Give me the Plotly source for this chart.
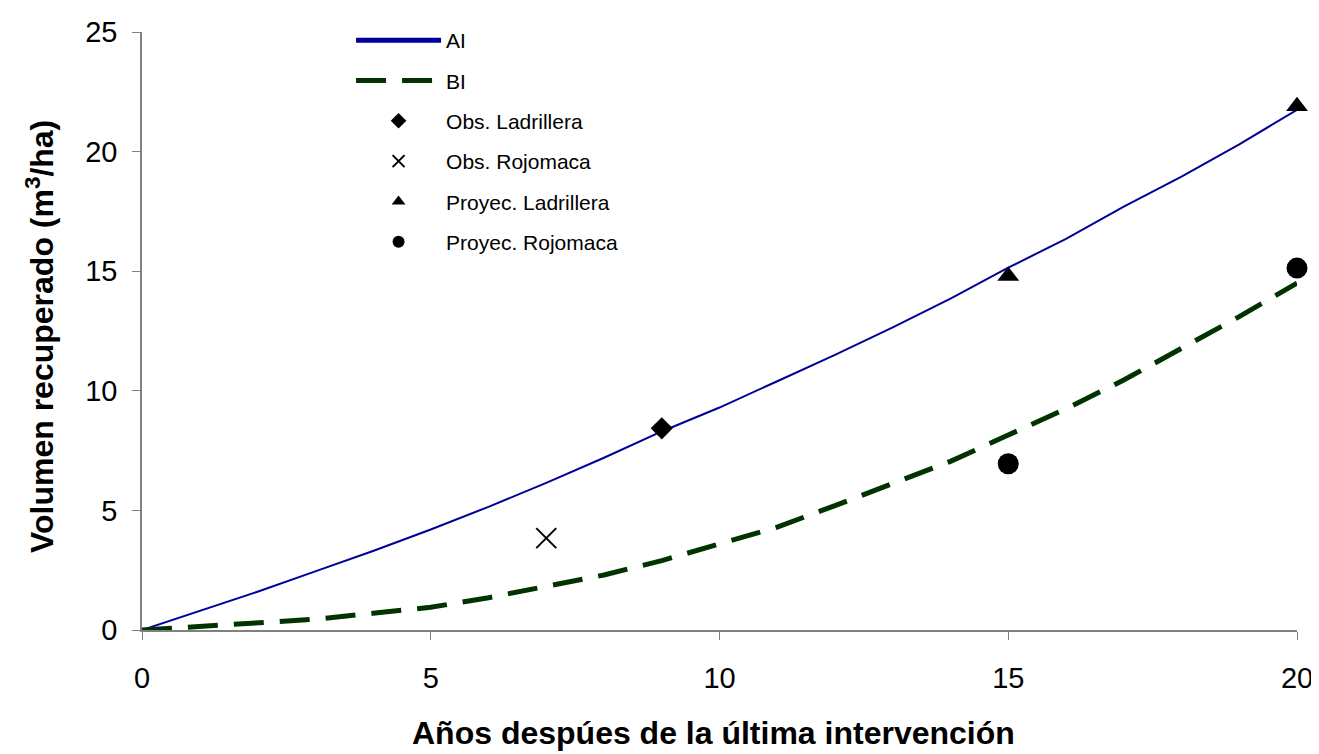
import plotly.graph_objects as go

years = list(range(21))
ai = [0, 0.8, 1.6, 2.45, 3.3, 4.2, 5.15, 6.15, 7.2, 8.3, 9.3, 10.4, 11.5, 12.65, 13.85, 15.15, 16.35, 17.7, 18.95, 20.3, 21.75]
bi = [0, 0.15, 0.3, 0.45, 0.7, 0.95, 1.35, 1.8, 2.3, 2.9, 3.6, 4.3, 5.2, 6.1, 7.05, 8.15, 9.25, 10.45, 11.75, 13.1, 14.5]

obs_lad_x = [9]
obs_lad_y = [8.43]
obs_roj_x = [7]
obs_roj_y = [3.84]
proy_lad_x = [15, 20]
proy_lad_y = [14.8, 21.9]
proy_roj_x = [15, 20]
proy_roj_y = [6.95, 15.13]

xticks = [0, 5, 10, 15, 20]
yticks = [0, 5, 10, 15, 20, 25]

FONT = "Liberation Sans, Arial, sans-serif"

fig = go.Figure()
fig.add_trace(go.Scatter(x=years, y=ai, mode="lines", name="AI", legendgroup="a",
                         line=dict(color="#000099", width=2)))
fig.add_trace(go.Scatter(x=years, y=bi, mode="lines", name="BI", legendgroup="b",
                         line=dict(color="#003300", width=5, dash="30px,16px")))
fig.add_trace(go.Scatter(x=obs_lad_x, y=obs_lad_y, mode="markers", name="Obs. Ladrillera", legendgroup="c",
                         marker=dict(symbol="diamond", size=17, color="black")))
fig.add_trace(go.Scatter(x=obs_roj_x, y=obs_roj_y, mode="markers", name="Obs. Rojomaca", legendgroup="d",
                         marker=dict(symbol="x-thin", size=20, color="black", line=dict(color="black", width=2))))
fig.add_trace(go.Scatter(x=proy_lad_x, y=proy_lad_y, mode="markers", name="Proyec. Ladrillera", legendgroup="e",
                         marker=dict(symbol="triangle-up", size=19, color="black")))
fig.add_trace(go.Scatter(x=proy_roj_x, y=proy_roj_y, mode="markers", name="Proyec. Rojomaca", legendgroup="f",
                         marker=dict(symbol="circle", size=21, color="black")))

tick_font = dict(family=FONT, size=29, color="black")
title_font = dict(family=FONT, size=32, color="black")
# page body adds an 8px margin, so the figure is 8px smaller and shifted
fig.update_layout(
    width=1311, height=746,
    margin=dict(l=134, r=22, t=14, b=124),
    paper_bgcolor="white", plot_bgcolor="white",
    font=dict(family=FONT, color="black"),
    showlegend=True,
    legend=dict(x=0.181, y=1.02, xanchor="left", yanchor="top",
                font=dict(size=21, family=FONT, color="black"),
                itemwidth=85, itemsizing="constant", tracegroupgap=10,
                bgcolor="rgba(0,0,0,0)"),
    xaxis=dict(range=[0, 20], tickvals=xticks, ticks="outside", ticklen=8, tickcolor="#808080",
               showline=True, linecolor="#808080", linewidth=1.5, showgrid=False, zeroline=False,
               tickfont=tick_font, ticklabelstandoff=13, automargin=False),
    yaxis=dict(range=[0, 25], tickvals=yticks, ticks="outside", ticklen=8, tickcolor="#808080",
               showline=True, linecolor="#808080", linewidth=1.5, showgrid=False, zeroline=False,
               tickfont=tick_font, ticklabelstandoff=9, automargin=False),
    annotations=[
        dict(text="<b>Años despúes de la última intervención</b>", xref="paper", yref="paper",
             x=0.4952, y=-0.1727, xanchor="center", yanchor="middle", showarrow=False, font=title_font),
        dict(text="<b>Volumen recuperado (m<sup>3</sup>/ha)</b>", xref="paper", yref="paper",
             x=-0.0883, y=0.49, xanchor="center", yanchor="middle", textangle=-90, showarrow=False,
             font=title_font),
    ],
)
fig.update_traces(cliponaxis=False)
fig.write_html("out.html")
